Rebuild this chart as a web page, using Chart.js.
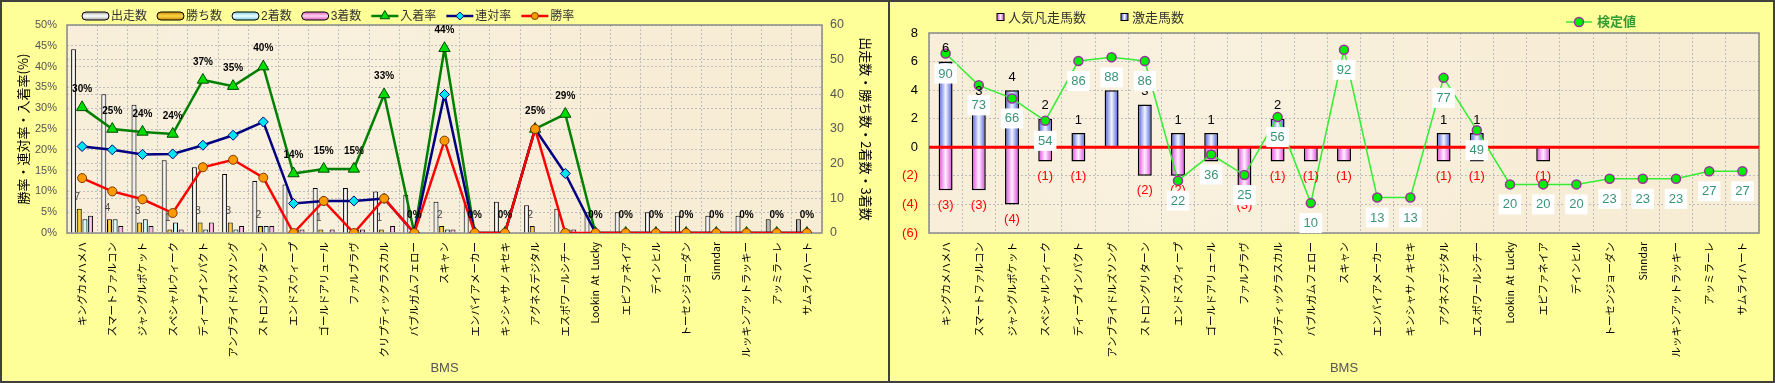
<!DOCTYPE html>
<html>
<head>
<meta charset="utf-8">
<script src="https://cdn.jsdelivr.net/npm/chart.js"></script>
<style>
  html, body { margin: 0; padding: 0; background: #FFFF99; }
  #wrap { position: relative; width: 1775px; height: 383px; overflow: hidden; }
  #left { position: absolute; left: 0; top: 0; }
  #right { position: absolute; left: 890px; top: 0; }
  .divider { position: absolute; left: 888px; top: 0; width: 2px; height: 383px; background: #404040; }
  .frame { position: absolute; left: 0; top: 0; width: 1775px; height: 383px; box-sizing: border-box; border: 2px solid #404040; pointer-events: none; }
</style>
</head>
<body>
<div id="wrap">
  <canvas id="left" width="888" height="383"></canvas>
  <canvas id="right" width="885" height="383"></canvas>
  <div class="divider"></div>
  <div class="frame"></div>
</div>
<script>
// BMS (broodmare sires)
const sires = [
  'キングカメハメハ', 'スマートファルコン', 'ジャングルポケット', 'スペシャルウィーク',
  'ディープインパクト', 'アンブライドルズソング', 'ストロングリターン', 'エンドスウィープ',
  'ゴールドアリュール', 'ファルブラヴ', 'クリプティックラスカル', 'バブルガムフェロー',
  'スキャン', 'エンパイアメーカー', 'キンシャサノキセキ', 'アグネスデジタル',
  'エスポワールシチー', 'Lookin  At  Lucky', 'エピファネイア', 'デインヒル',
  'トーセンジョーダン', 'Sinndar', 'ルッキンアットラッキー', 'アッミラーレ', 'サムライハート'
];

// left chart: counts (right axis)
const runs    = [53, 40, 37, 21, 19, 17, 15, 14, 13, 13, 12, 11, 9, 9, 9, 8, 7, 6, 6, 6, 5, 5, 5, 4, 4];
const wins    = [7, 4, 3, 1, 3, 3, 2, 0, 1, 0, 1, 0, 2, 0, 0, 2, 0, 0, 0, 0, 0, 0, 0, 0, 0];
const seconds = [4, 4, 4, 3, 1, 1, 2, 1, 0, 1, 0, 0, 1, 0, 0, 0, 1, 0, 0, 0, 0, 0, 0, 0, 0];
const thirds  = [5, 2, 2, 1, 3, 2, 2, 1, 1, 1, 2, 0, 1, 0, 0, 0, 1, 0, 0, 0, 0, 0, 0, 0, 0];

// left chart: rates in % (left axis)
const placeRate  = [30.2, 25.0, 24.3, 23.8, 36.8, 35.3, 40.0, 14.3, 15.4, 15.4, 33.3, 0, 44.4, 0, 0, 25.0, 28.6, 0, 0, 0, 0, 0, 0, 0, 0];
const rentaiRate = [20.8, 20.0, 18.9, 19.0, 21.1, 23.5, 26.7, 7.1, 7.7, 7.7, 8.3, 0, 33.3, 0, 0, 25.0, 14.3, 0, 0, 0, 0, 0, 0, 0, 0];
const winRate    = [13.2, 10.0, 8.1, 4.8, 15.8, 17.6, 13.3, 0, 7.7, 0, 8.3, 0, 22.2, 0, 0, 25.0, 0, 0, 0, 0, 0, 0, 0, 0, 0];

// right chart
const gekisou = [6, 3, 4, 2, 1, 4, 3, 1, 1, 0, 2, 0, 0, 0, 0, 1, 1, 0, 0, 0, 0, 0, 0, 0, 0];
const bonsou  = [3, 3, 4, 1, 1, 0, 2, 2, 1, 3, 1, 1, 1, 0, 0, 1, 1, 0, 1, 0, 0, 0, 0, 0, 0];
const kentei  = [90, 73, 66, 54, 86, 88, 86, 22, 36, 25, 56, 10, 92, 13, 13, 77, 49, 20, 20, 20, 23, 23, 23, 27, 27];

const leftTicks = [0, 5, 10, 15, 20, 25, 30, 35, 40, 45, 50];

const FONT = '"Liberation Sans", "Noto Sans CJK JP", sans-serif';
const JFONT = '"Noto Sans CJK JP", sans-serif';
Chart.defaults.font.family = FONT;

const PLOT_BG = '#F7ECD4';
const GRID = '#BEBEBE';

const runsStops   = ['#A8A8A8', '#FFFFFF'];
const runsStops2  = ['#7C7C7C', '#C4C4C4'];
const winsStops   = ['#C88C00', '#FFD64A'];
const secondStops = ['#78CFE0', '#EEFFFF'];
const thirdStops  = ['#DC66BC', '#FFD0EE'];
const blueStops   = ['#4555D8', '#F2F5FF'];
const pinkStops   = ['#DD3FDD', '#FFF0FF'];

// horizontal gradient across one bar, found from the category scale
function barGradient(ctx, slot, slots, catPct, barPct, stops) {
  const chart = ctx.chart;
  const xs = chart.scales.x;
  if (ctx.type !== 'data' || !xs || !chart.chartArea) return stops[0];
  const catW = xs.width / chart.data.labels.length;
  const groupW = catW * catPct;
  const slotW = groupW / slots;
  const barW = slotW * barPct;
  const cx = xs.getPixelForValue(ctx.dataIndex) - groupW / 2 + slotW * (slot + 0.5);
  const g = chart.ctx.createLinearGradient(cx - barW / 2, 0, cx + barW / 2, 0);
  g.addColorStop(0, stops[0]);
  g.addColorStop(0.5, stops[1]);
  g.addColorStop(1, stops[0]);
  return g;
}

function drawMarker(ctx, style, x, y, r, fill, stroke, lw) {
  ctx.beginPath();
  if (style === 'triangle') {
    ctx.moveTo(x, y - r);
    ctx.lineTo(x + r * 0.866, y + r * 0.5);
    ctx.lineTo(x - r * 0.866, y + r * 0.5);
    ctx.closePath();
  } else if (style === 'rectRot') {
    ctx.moveTo(x, y - r);
    ctx.lineTo(x + r, y);
    ctx.lineTo(x, y + r);
    ctx.lineTo(x - r, y);
    ctx.closePath();
  } else {
    ctx.arc(x, y, r, 0, Math.PI * 2);
  }
  ctx.fillStyle = fill;
  ctx.fill();
  ctx.lineWidth = lw;
  ctx.strokeStyle = stroke;
  ctx.stroke();
}

function drawBoxKey(ctx, x, y, w, h, stops, round) {
  const g = ctx.createLinearGradient(0, y - h / 2, 0, y + h / 2);
  g.addColorStop(0, stops[0]);
  g.addColorStop(0.5, stops[1]);
  g.addColorStop(1, stops[0]);
  ctx.fillStyle = g;
  ctx.strokeStyle = '#000';
  ctx.lineWidth = 1;
  ctx.beginPath();
  ctx.roundRect(x, y - h / 2, w, h, round);
  ctx.fill();
  ctx.stroke();
}

// parchment plot area + frame
const plotArea = {
  id: 'plotArea',
  beforeDraw(chart) {
    const { ctx, chartArea: a } = chart;
    ctx.save();
    ctx.fillStyle = PLOT_BG;
    ctx.fillRect(a.left, a.top, a.right - a.left, a.bottom - a.top);
    const g = ctx.createRadialGradient(a.left + a.width * 0.3, a.top + a.height * 0.4, 10, a.left + a.width * 0.3, a.top + a.height * 0.4, a.width * 0.6);
    g.addColorStop(0, 'rgba(255,255,255,0.25)');
    g.addColorStop(1, 'rgba(255,255,255,0)');
    ctx.fillStyle = g;
    ctx.fillRect(a.left, a.top, a.right - a.left, a.bottom - a.top);
    ctx.restore();
  },
  beforeDatasetsDraw(chart) {
    const { ctx, chartArea: a } = chart;
    ctx.save();
    ctx.strokeStyle = '#8A8A8A';
    ctx.lineWidth = 1.5;
    ctx.strokeRect(a.left, a.top, a.right - a.left, a.bottom - a.top);
    ctx.restore();
  }
};

const gridOpts = { color: GRID, drawTicks: false };
const dashBorder = { display: false, dash: [2, 2] };
const xTickOpts = { autoSkip: false, minRotation: 90, maxRotation: 90, padding: 9, color: '#000', font: { family: JFONT, size: 10.5 } };

// ---------- left chart ----------
const leftLabels = {
  id: 'leftLabels',
  afterDatasetDraw(chart, args) {
    if (args.index !== 3) return;
    const ctx = chart.ctx;
    const winMeta = chart.getDatasetMeta(4);
    ctx.save();
    ctx.font = '10px ' + FONT;
    ctx.fillStyle = '#444';
    ctx.textAlign = 'center';
    ctx.textBaseline = 'middle';
    winMeta.data.forEach((bar, i) => {
      if (wins[i] > 0) ctx.fillText(String(wins[i]), bar.x - 2, bar.y - 11);
    });
    ctx.restore();
  },
  afterDatasetsDraw(chart) {
    const ctx = chart.ctx;
    const placeMeta = chart.getDatasetMeta(2);
    ctx.save();
    ctx.font = 'bold 10px ' + FONT;
    ctx.fillStyle = '#000';
    ctx.textAlign = 'center';
    ctx.textBaseline = 'middle';
    placeMeta.data.forEach((pt, i) => {
      ctx.fillText(Math.round(placeRate[i]) + '%', pt.x, pt.y - 18);
    });
    ctx.restore();
  },
  afterDraw(chart) {
    const ctx = chart.ctx;
    const keys = [
      { label: '出走数', box: runsStops },
      { label: '勝ち数', box: winsStops },
      { label: '2着数', box: secondStops },
      { label: '3着数', box: thirdStops },
      { label: '入着率', line: '#008000', marker: 'triangle', r: 5.5, fill: '#00DD00', stroke: '#004A00' },
      { label: '連対率', line: '#000080', marker: 'rectRot', r: 4, fill: '#00E5EE', stroke: '#000080' },
      { label: '勝率', line: '#FF0000', marker: 'circle', r: 3.5, fill: '#FF9900', stroke: '#7A3A00' }
    ];
    let x = 82;
    const y = 16;
    ctx.save();
    ctx.font = '12px ' + FONT;
    ctx.textBaseline = 'middle';
    ctx.textAlign = 'left';
    keys.forEach(k => {
      if (k.box) {
        drawBoxKey(ctx, x, y, 27, 8, k.box, 4);
      } else {
        ctx.strokeStyle = k.line;
        ctx.lineWidth = 2.5;
        ctx.beginPath();
        ctx.moveTo(x, y);
        ctx.lineTo(x + 27, y);
        ctx.stroke();
        drawMarker(ctx, k.marker, x + 13.5, y, k.r, k.fill, k.stroke, 1);
      }
      ctx.fillStyle = '#333';
      ctx.fillText(k.label, x + 29, y + 1);
      x += 29 + ctx.measureText(k.label).width + 10;
    });
    ctx.restore();
  }
};

const L_CAT = 0.75, L_BAR = 0.88;

new Chart(document.getElementById('left'), {
  type: 'bar',
  data: {
    labels: sires,
    datasets: [
      {
        type: 'line', label: '勝率', data: winRate, yAxisID: 'y', order: 1,
        borderColor: '#FF0000', borderWidth: 2.5, tension: 0,
        pointStyle: 'circle', pointRadius: 4.5, pointBackgroundColor: '#FF9900',
        pointBorderColor: '#7A3A00', pointBorderWidth: 1
      },
      {
        type: 'line', label: '連対率', data: rentaiRate, yAxisID: 'y', order: 2,
        borderColor: '#000080', borderWidth: 2.5, tension: 0,
        pointStyle: 'rectRot', pointRadius: 5, pointBackgroundColor: '#00E5EE',
        pointBorderColor: '#000080', pointBorderWidth: 1
      },
      {
        type: 'line', label: '入着率', data: placeRate, yAxisID: 'y', order: 3,
        borderColor: '#008000', borderWidth: 2.5, tension: 0,
        pointStyle: 'triangle', pointRadius: 6.5, pointBackgroundColor: '#00DD00',
        pointBorderColor: '#004A00', pointBorderWidth: 1
      },
      {
        label: '出走数', data: runs, yAxisID: 'y1', order: 4,
        backgroundColor: c => barGradient(c, 0, 4, L_CAT, L_BAR, c.dataIndex >= 23 ? runsStops2 : runsStops),
        borderColor: '#000', borderWidth: 1, categoryPercentage: L_CAT, barPercentage: L_BAR
      },
      {
        label: '勝ち数', data: wins, yAxisID: 'y1', order: 5,
        backgroundColor: c => barGradient(c, 1, 4, L_CAT, L_BAR, winsStops),
        borderColor: '#000', borderWidth: 1, categoryPercentage: L_CAT, barPercentage: L_BAR
      },
      {
        label: '2着数', data: seconds, yAxisID: 'y1', order: 6,
        backgroundColor: c => barGradient(c, 2, 4, L_CAT, L_BAR, secondStops),
        borderColor: '#000', borderWidth: 1, categoryPercentage: L_CAT, barPercentage: L_BAR
      },
      {
        label: '3着数', data: thirds, yAxisID: 'y1', order: 7,
        backgroundColor: c => barGradient(c, 3, 4, L_CAT, L_BAR, thirdStops),
        borderColor: '#000', borderWidth: 1, categoryPercentage: L_CAT, barPercentage: L_BAR
      }
    ]
  },
  options: {
    responsive: false,
    animation: false,
    devicePixelRatio: 1,
    layout: { padding: { top: 25, left: 0, right: 0, bottom: 0 } },
    plugins: { legend: { display: false }, tooltip: { enabled: false } },
    scales: {
      x: {
        grid: gridOpts, border: dashBorder,
        ticks: xTickOpts,
        title: { display: true, text: 'BMS', color: '#555', font: { size: 13 }, padding: { top: 0, bottom: 7 } },
        afterFit: s => { s.height = 150; }
      },
      y: {
        position: 'left', min: 0, max: 50,
        afterBuildTicks: s => { s.ticks = leftTicks.map(v => ({ value: v })); },
        ticks: { callback: v => v + '%', color: '#555', font: { size: 11 }, padding: 10 },
        grid: gridOpts, border: dashBorder,
        title: { display: true, text: '勝率・連対率・入着率(%)', color: '#000', font: { family: JFONT, size: 13 }, padding: { top: 15, bottom: 0 } },
        afterFit: s => { s.width = 67; }
      },
      y1: {
        position: 'right', min: 0, max: 60,
        ticks: { stepSize: 10, color: '#555', font: { size: 12.5 }, padding: 8 },
        grid: gridOpts, border: dashBorder,
        title: { display: true, text: '出走数・勝ち数・2着数・3着数', color: '#000', font: { family: JFONT, size: 13 }, padding: { top: 14, bottom: 0 } },
        afterFit: s => { s.width = 66; }
      }
    }
  },
  plugins: [plotArea, leftLabels]
});

// ---------- right chart ----------
const R_CAT = 1, R_BAR = 0.42;

const rightLabels = {
  id: 'rightLabels',
  beforeDatasetDraw(chart, args) {
    if (args.index !== 0) return;
    const { ctx, chartArea: a } = chart;
    const y0 = chart.scales.y.getPixelForValue(0);
    ctx.save();
    ctx.strokeStyle = '#FF0000';
    ctx.lineWidth = 3;
    ctx.beginPath();
    ctx.moveTo(a.left, y0);
    ctx.lineTo(a.right, y0);
    ctx.stroke();
    ctx.restore();
  },
  afterDatasetsDraw(chart) {
    const ctx = chart.ctx;
    const lineMeta = chart.getDatasetMeta(0);
    const pinkMeta = chart.getDatasetMeta(1);
    const blueMeta = chart.getDatasetMeta(2);
    ctx.save();
    ctx.font = '13px ' + FONT;
    ctx.textAlign = 'center';
    ctx.textBaseline = 'middle';
    blueMeta.data.forEach((bar, i) => {
      if (gekisou[i] > 0) { ctx.fillStyle = '#000'; ctx.fillText(String(gekisou[i]), bar.x, bar.y - 13); }
    });
    pinkMeta.data.forEach((bar, i) => {
      if (bonsou[i] > 0) { ctx.fillStyle = '#FF0000'; ctx.fillText('(' + bonsou[i] + ')', bar.x, bar.y + 15); }
    });
    lineMeta.data.forEach((pt, i) => {
      const t = String(kentei[i]);
      const w = ctx.measureText(t).width + 8;
      ctx.fillStyle = '#FFFFFF';
      ctx.fillRect(pt.x - w / 2, pt.y + 10, w, 20);
      ctx.fillStyle = '#3A9474';
      ctx.fillText(t, pt.x, pt.y + 20.5);
    });
    ctx.restore();
  },
  afterDraw(chart) {
    const ctx = chart.ctx;
    ctx.save();
    ctx.textAlign = 'left';
    ctx.textBaseline = 'middle';
    ctx.font = '13px ' + FONT;
    const sq = [
      { x: 107, label: '人気凡走馬数', stops: pinkStops },
      { x: 231, label: '激走馬数', stops: blueStops }
    ];
    sq.forEach(k => {
      const g = ctx.createLinearGradient(k.x, 0, k.x + 7, 0);
      g.addColorStop(0, k.stops[0]); g.addColorStop(0.5, k.stops[1]); g.addColorStop(1, k.stops[0]);
      ctx.fillStyle = g;
      ctx.fillRect(k.x, 13.5, 7, 7);
      ctx.strokeStyle = '#000';
      ctx.lineWidth = 1;
      ctx.strokeRect(k.x, 13.5, 7, 7);
      ctx.fillStyle = '#333';
      ctx.fillText(k.label, k.x + 11, 18);
    });
    // 検定値 key
    ctx.strokeStyle = '#33EE33';
    ctx.lineWidth = 1.5;
    ctx.beginPath();
    ctx.moveTo(676, 22);
    ctx.lineTo(702, 22);
    ctx.stroke();
    drawMarker(ctx, 'circle', 689, 22, 4.5, '#00EE00', '#993399', 1.5);
    ctx.font = 'bold 13px ' + FONT;
    ctx.fillStyle = '#339933';
    ctx.fillText('検定値', 707, 22.5);
    ctx.restore();
  }
};

new Chart(document.getElementById('right'), {
  type: 'bar',
  data: {
    labels: sires,
    datasets: [
      {
        type: 'line', label: '検定値', data: kentei, yAxisID: 'y2', order: 1,
        borderColor: '#33EE33', borderWidth: 1.5, tension: 0,
        pointRadius: 4.5, pointBackgroundColor: '#00EE00',
        pointBorderColor: '#993399', pointBorderWidth: 1.5
      },
      {
        label: '人気凡走馬数', data: bonsou.map(v => -v), yAxisID: 'y', stack: 's', order: 2,
        backgroundColor: c => barGradient(c, 0, 1, R_CAT, R_BAR, pinkStops),
        borderColor: '#000', borderWidth: 1.5, categoryPercentage: R_CAT, barPercentage: R_BAR
      },
      {
        label: '激走馬数', data: gekisou, yAxisID: 'y', stack: 's', order: 3,
        backgroundColor: c => barGradient(c, 0, 1, R_CAT, R_BAR, blueStops),
        borderColor: '#000', borderWidth: 1.5, categoryPercentage: R_CAT, barPercentage: R_BAR
      }
    ]
  },
  options: {
    responsive: false,
    animation: false,
    devicePixelRatio: 1,
    layout: { padding: { top: 33, left: 0, right: 16, bottom: 0 } },
    plugins: { legend: { display: false }, tooltip: { enabled: false } },
    scales: {
      x: {
        stacked: true,
        grid: gridOpts, border: dashBorder,
        ticks: xTickOpts,
        title: { display: true, text: 'BMS', color: '#555', font: { size: 13 }, padding: { top: 0, bottom: 7 } },
        afterFit: s => { s.height = 150; }
      },
      y: {
        stacked: true, position: 'left', min: -6, max: 8,
        ticks: {
          stepSize: 2, padding: 11, font: { size: 13 },
          color: c => (c.tick && c.tick.value < 0 ? '#FF0000' : '#000'),
          callback: v => (v < 0 ? '(' + (-v) + ')' : v)
        },
        grid: gridOpts, border: dashBorder,
        afterFit: s => { s.width = 39; }
      },
      y2: { display: false, min: -6, max: 101 }
    }
  },
  plugins: [plotArea, rightLabels]
});
</script>
</body>
</html>
